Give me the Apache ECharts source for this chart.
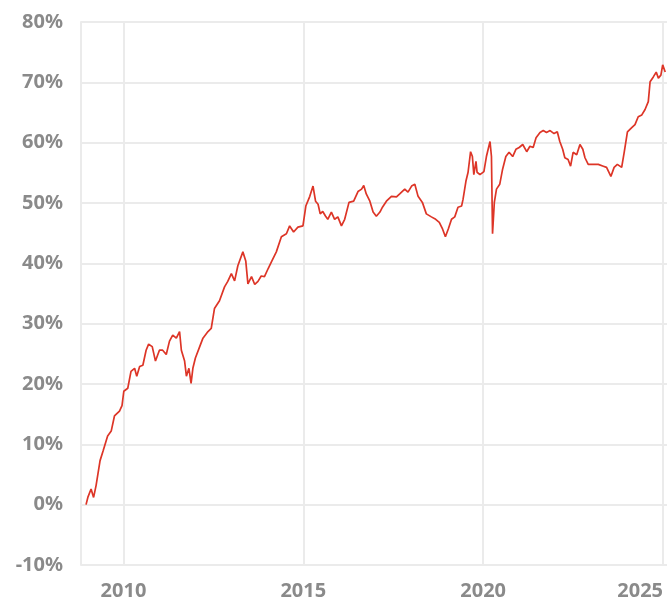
<!DOCTYPE html>
<html>
<head>
<meta charset="utf-8">
<script src="https://cdn.jsdelivr.net/npm/echarts@6/dist/echarts.min.js"></script>
<style>
  html, body { margin: 0; padding: 0; background: #ffffff; }
  #chart { width: 667px; height: 601px; }
</style>
</head>
<body>
<div id="chart"></div>
<script>
// Cumulative return, in percent, sampled roughly monthly (decimal years)
const years = [
  2008.96, 2009.01, 2009.10, 2009.17, 2009.24, 2009.35, 2009.44, 2009.56, 2009.66, 2009.75,
  2009.89, 2009.96, 2010.01, 2010.12, 2010.21, 2010.31, 2010.37, 2010.45, 2010.54, 2010.63,
  2010.70, 2010.80, 2010.89, 2011.00, 2011.09, 2011.19, 2011.28, 2011.37, 2011.47, 2011.56,
  2011.61, 2011.70, 2011.75, 2011.82, 2011.88, 2011.93, 2012.00, 2012.12, 2012.21, 2012.35,
  2012.44, 2012.53, 2012.67, 2012.81, 2012.90, 2013.00, 2013.09, 2013.18, 2013.32, 2013.40,
  2013.46, 2013.56, 2013.65, 2013.74, 2013.83, 2013.92, 2014.02, 2014.11, 2014.25, 2014.39,
  2014.53, 2014.62, 2014.73, 2014.85, 2014.99, 2015.07, 2015.18, 2015.27, 2015.34, 2015.41,
  2015.47, 2015.54, 2015.62, 2015.68, 2015.78, 2015.87, 2015.96, 2016.06, 2016.15, 2016.27,
  2016.40, 2016.52, 2016.62, 2016.68, 2016.75, 2016.85, 2016.94, 2017.03, 2017.13, 2017.20,
  2017.31, 2017.45, 2017.59, 2017.68, 2017.82, 2017.91, 2018.01, 2018.10, 2018.19, 2018.31,
  2018.42, 2018.56, 2018.68, 2018.78, 2018.87, 2018.95, 2019.03, 2019.12, 2019.21, 2019.30,
  2019.40, 2019.44, 2019.52, 2019.58, 2019.65, 2019.70, 2019.74, 2019.80, 2019.83, 2019.91,
  2020.02, 2020.09, 2020.19, 2020.23, 2020.26, 2020.31, 2020.37, 2020.46, 2020.54, 2020.63,
  2020.72, 2020.82, 2020.91, 2021.00, 2021.10, 2021.21, 2021.30, 2021.39, 2021.47, 2021.58,
  2021.67, 2021.76, 2021.86, 2021.97, 2022.06, 2022.13, 2022.21, 2022.27, 2022.36, 2022.43,
  2022.50, 2022.60, 2022.69, 2022.77, 2022.83, 2022.92, 2023.06, 2023.20, 2023.34, 2023.43,
  2023.55, 2023.64, 2023.73, 2023.85, 2023.92, 2024.01, 2024.13, 2024.22, 2024.31, 2024.41,
  2024.50, 2024.59, 2024.64, 2024.73, 2024.81, 2024.87, 2024.94, 2024.99, 2025.06
];
const returns = [
  0.0, 1.2, 2.6, 1.2, 3.2, 7.3, 9.0, 11.4, 12.2, 14.7,
  15.5, 16.4, 18.8, 19.3, 22.1, 22.6, 21.3, 22.9, 23.1, 25.6,
  26.6, 26.2, 23.8, 25.6, 25.6, 24.9, 27.1, 28.1, 27.6, 28.7,
  25.6, 23.8, 21.3, 22.6, 20.1, 22.6, 24.3, 26.2, 27.6, 28.7,
  29.2, 32.5, 33.8, 36.1, 37.0, 38.3, 37.1, 39.6, 41.9, 40.4,
  36.6, 37.8, 36.5, 37.0, 37.9, 37.8, 39.1, 40.2, 41.9, 44.4,
  44.9, 46.2, 45.2, 46.0, 46.2, 49.5, 51.1, 52.8, 50.3, 49.8,
  48.2, 48.6, 47.8, 47.3, 48.5, 47.3, 47.7, 46.2, 47.3, 50.1,
  50.3, 51.9, 52.3, 52.9, 51.5, 50.3, 48.5, 47.8, 48.5, 49.3,
  50.3, 51.1, 51.0, 51.5, 52.3, 51.8, 52.8, 53.1, 51.1, 50.1,
  48.2, 47.7, 47.3, 46.8, 45.7, 44.4, 45.7, 47.3, 47.7, 49.3,
  49.5, 50.6, 53.6, 55.1, 58.5, 57.7, 54.7, 56.9, 55.1, 54.7,
  55.2, 57.7, 60.2, 57.7, 44.9, 50.1, 52.3, 53.1, 55.6, 57.7,
  58.4, 57.7, 58.9, 59.2, 59.7, 58.5, 59.4, 59.2, 60.8, 61.7,
  62.0, 61.7, 62.0, 61.5, 61.8, 60.2, 58.9, 57.5, 57.2, 56.1,
  58.4, 58.0, 59.7, 58.9, 57.5, 56.4, 56.4, 56.4, 56.1, 55.9,
  54.4, 55.9, 56.4, 55.9, 58.4, 61.8, 62.5, 63.0, 64.3, 64.6,
  65.5, 66.8, 70.1, 70.9, 71.7, 70.7, 71.2, 72.9, 71.7
];
const yearTicks = [2010, 2015, 2020, 2025];

const seriesData = years.map((y, i) => [y, returns[i]]);

const labelStyle = {
  color: '#8a8a8a',
  fontSize: 20,
  fontWeight: 'bold',
  fontFamily: '"Noto Sans", "Open Sans", sans-serif'
};
const gridLine = { lineStyle: { color: '#ebebeb', width: 2 } };

const chart = echarts.init(document.getElementById('chart'), null, { renderer: 'canvas' });
chart.setOption({
  animation: false,
  backgroundColor: '#ffffff',
  grid: { left: 81, right: 0, top: 22, bottom: 34, containLabel: false },
  xAxis: {
    type: 'value',
    min: 2008.82,
    max: 2025.11,
    axisLine: { show: false },
    axisTick: { show: false, customValues: yearTicks },
    axisLabel: Object.assign({
      customValues: yearTicks,
      margin: 16,
      alignMaxLabel: 'right',
      formatter: v => String(Math.round(v))
    }, labelStyle),
    splitLine: Object.assign({ show: true }, gridLine)
  },
  yAxis: {
    type: 'value',
    min: -10,
    max: 80,
    interval: 10,
    axisLine: { show: true, lineStyle: { color: '#ebebeb', width: 2 } },
    axisTick: { show: false },
    axisLabel: Object.assign({ margin: 18, formatter: '{value}%' }, labelStyle),
    splitLine: Object.assign({ show: true }, gridLine)
  },
  series: [{
    type: 'line',
    data: seriesData,
    showSymbol: false,
    smooth: false,
    lineStyle: { color: '#dd3527', width: 1.7 },
    emphasis: { disabled: true }
  }]
});
</script>
</body>
</html>
